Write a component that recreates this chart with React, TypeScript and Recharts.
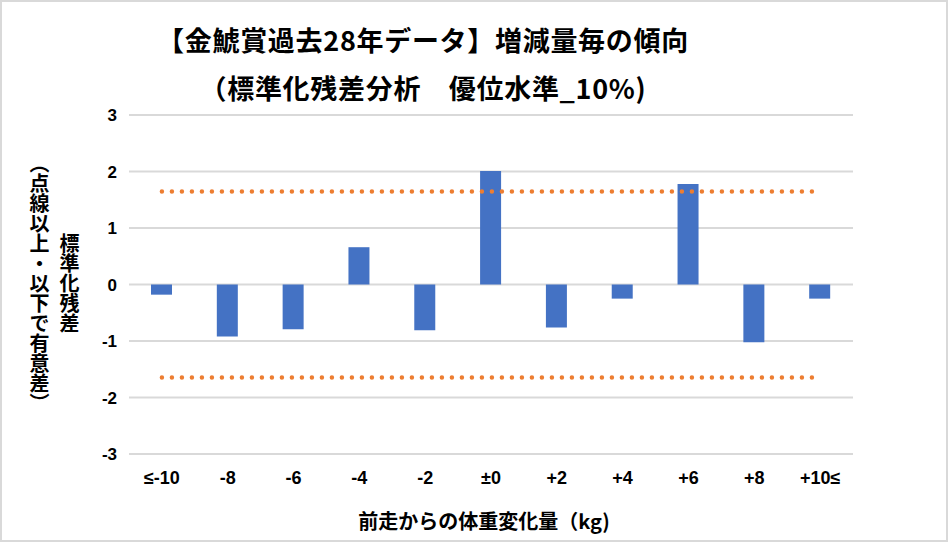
import React from 'react';
import { ComposedChart, Bar, Line, XAxis, YAxis, CartesianGrid } from 'recharts';

const categories = ['≤-10', '-8', '-6', '-4', '-2', '±0', '+2', '+4', '+6', '+8', '+10≤'];
const residuals = [-0.18, -0.92, -0.79, 0.66, -0.81, 2.01, -0.76, -0.25, 1.78, -1.02, -0.25];
const upperLimit = [1.645, 1.645, 1.645, 1.645, 1.645, 1.645, 1.645, 1.645, 1.645, 1.645, 1.645];
const lowerLimit = [-1.645, -1.645, -1.645, -1.645, -1.645, -1.645, -1.645, -1.645, -1.645, -1.645, -1.645];
const yTicks = [-3, -2, -1, 0, 1, 2, 3];

const titleLine1 = '【金鯱賞過去28年データ】増減量毎の傾向';
const titleLine2 = '（標準化残差分析　優位水準_10%)';
const yLabelInner = '標準化残差';
const yLabelOuter = '（点線以上・以下で有意差）';
const xLabel = '前走からの体重変化量（kg)';

const data = categories.map((name, i) => ({
  name,
  value: residuals[i],
  upper: upperLimit[i],
  lower: lowerLimit[i],
}));

const jpFont = '"Noto Sans CJK JP", "Noto Sans", sans-serif';
const numFont = '"Liberation Sans", Arial, sans-serif';

const titleStyle: React.CSSProperties = {
  position: 'absolute',
  left: 0,
  width: 846,
  textAlign: 'center',
  fontFamily: jpFont,
  fontWeight: 'bold',
  fontSize: 27,
  letterSpacing: 0.7,
  lineHeight: '34px',
  color: '#000',
};

const verticalStyle: React.CSSProperties = {
  position: 'absolute',
  width: 22,
  top: 148,
  height: 270,
  display: 'flex',
  justifyContent: 'center',
  fontFamily: jpFont,
  fontWeight: 'bold',
  fontSize: 20,
  color: '#000',
  writingMode: 'vertical-rl',
};

export default function App() {
  return (
    <div
      style={{
        position: 'absolute',
        left: 0,
        top: 0,
        width: 948,
        height: 542,
        background: '#fff',
        overflow: 'hidden',
      }}
    >
      <ComposedChart
        width={948}
        height={542}
        data={data}
        margin={{ top: 115, right: 95, left: 0, bottom: 58 }}
      >
        <CartesianGrid vertical={false} stroke="#d9d9d9" strokeWidth={2} />
        <XAxis
          dataKey="name"
          axisLine={false}
          tickLine={false}
          tickSize={0}
          tickMargin={17}
          height={30}
          interval={0}
          tick={{ fill: '#000', fontSize: 18, fontWeight: 'bold', fontFamily: numFont }}
        />
        <YAxis
          type="number"
          domain={[-3, 3]}
          ticks={yTicks}
          width={129}
          axisLine={false}
          tickLine={false}
          tickSize={0}
          tickMargin={12}
          tick={{ fill: '#000', fontSize: 17, fontWeight: 'bold', fontFamily: numFont }}
        />
        <Bar dataKey="value" fill="#4472c4" barSize={21} isAnimationActive={false} />
        <Line
          dataKey="upper"
          type="linear"
          stroke="#ed7d31"
          strokeWidth={4.5}
          strokeDasharray="0 10"
          strokeLinecap="round"
          dot={false}
          activeDot={false}
          isAnimationActive={false}
        />
        <Line
          dataKey="lower"
          type="linear"
          stroke="#ed7d31"
          strokeWidth={4.5}
          strokeDasharray="0 10"
          strokeLinecap="round"
          dot={false}
          activeDot={false}
          isAnimationActive={false}
        />
      </ComposedChart>

      <div style={{ ...titleStyle, top: 23 }}>{titleLine1}</div>
      <div style={{ ...titleStyle, top: 71 }}>{titleLine2}</div>

      <div style={{ ...verticalStyle, left: 32 }}>{yLabelOuter}</div>
      <div style={{ ...verticalStyle, left: 62 }}>{yLabelInner}</div>

      <div
        style={{
          position: 'absolute',
          left: 129,
          width: 710,
          top: 507,
          textAlign: 'center',
          fontFamily: jpFont,
          fontWeight: 'bold',
          fontSize: 20,
          lineHeight: '28px',
          color: '#000',
        }}
      >
        {xLabel}
      </div>

      <div
        style={{
          position: 'absolute',
          left: 0,
          top: 0,
          width: 948,
          height: 542,
          boxSizing: 'border-box',
          border: '2px solid #d9d9d9',
          pointerEvents: 'none',
        }}
      />
    </div>
  );
}
